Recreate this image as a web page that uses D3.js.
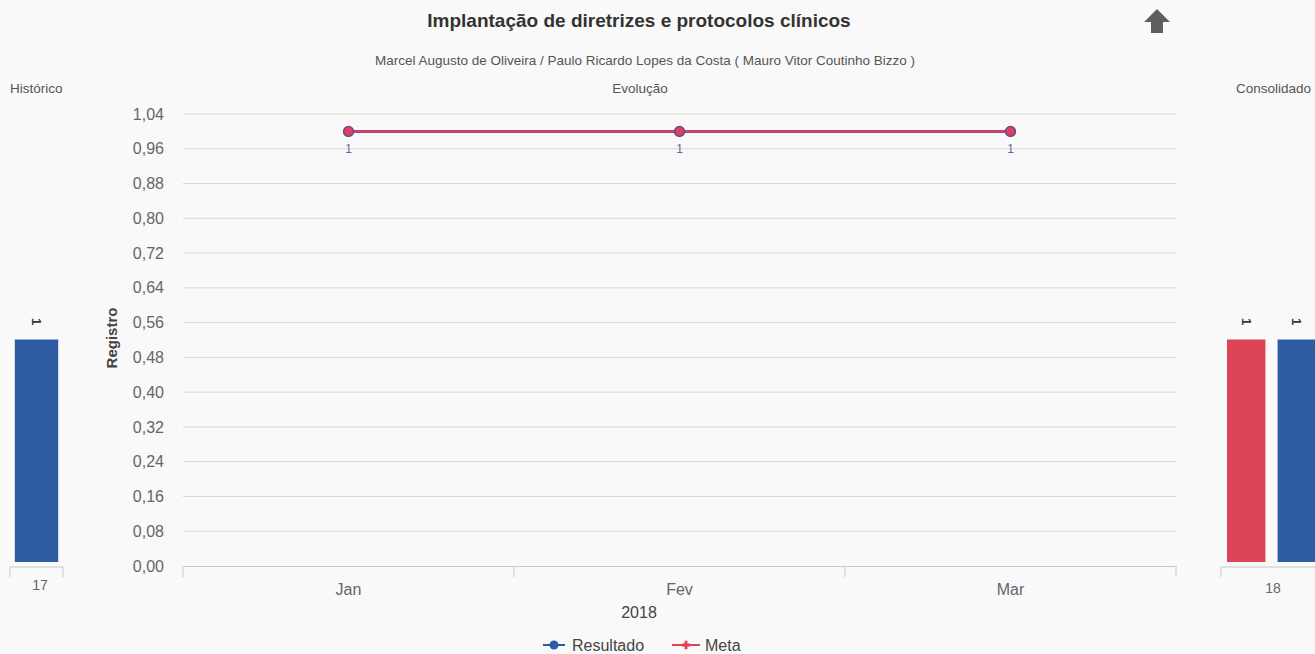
<!DOCTYPE html>
<html>
<head>
<meta charset="utf-8">
<script src="https://cdn.jsdelivr.net/npm/d3@7"></script>
<style>
  html, body { margin: 0; padding: 0; background: #f9f9f9; }
  svg { display: block; font-family: "Liberation Sans", Arial, sans-serif; }
</style>
</head>
<body>
<svg id="chart" width="1315" height="654"></svg>
<script>
// Evolution series (monthly)
const months = ["Jan", "Fev", "Mar"];
const resultado = [1, 1, 1];
const meta = [1, 1, 1];
const yTicks = [0, 0.08, 0.16, 0.24, 0.32, 0.40, 0.48, 0.56, 0.64, 0.72, 0.80, 0.88, 0.96, 1.04];

// Side panels
const historicoCats = ["17"];
const historicoValues = [1];
const consolidadoCats = ["18"];
const consolidadoMeta = [1];
const consolidadoResultado = [1];

const blue = "#2d5ca3";
const red = "#dc4458";
const lineRed = "#dd3f66";
const textGrey = "#666";

const svg = d3.select("#chart");
const fmt = d3.format(".2f");
const comma = v => fmt(v).replace(".", ",");

// Titles
svg.append("text").attr("x", 639).attr("y", 27).attr("text-anchor", "middle")
  .attr("font-size", 19).attr("font-weight", "bold").attr("fill", "#333")
  .text("Implantação de diretrizes e protocolos clínicos");
svg.append("text").attr("x", 645).attr("y", 65).attr("text-anchor", "middle")
  .attr("font-size", 13.5).attr("fill", "#555")
  .text("Marcel Augusto de Oliveira / Paulo Ricardo Lopes da Costa ( Mauro Vitor Coutinho Bizzo )");
svg.append("text").attr("x", 640).attr("y", 93).attr("text-anchor", "middle")
  .attr("font-size", 13.5).attr("fill", "#555").text("Evolução");
svg.append("text").attr("x", 10).attr("y", 93)
  .attr("font-size", 13.5).attr("fill", "#555").text("Histórico");
svg.append("text").attr("x", 1236).attr("y", 93)
  .attr("font-size", 13.5).attr("fill", "#555").text("Consolidado");

// Up arrow icon
svg.append("path")
  .attr("d", "M1157,9 L1170,22 L1163,22 L1163,33 L1151,33 L1151,22 L1144,22 Z")
  .attr("fill", "#5e5e5e");

// Main evolution chart
const x = d3.scaleBand().domain(months).range([183, 1176]);
const y = d3.scaleLinear().domain([0, 1.04]).range([566, 114]);

const grid = svg.append("g");
grid.selectAll("line").data(yTicks.filter(d => d > 0)).join("line")
  .attr("x1", 183).attr("x2", 1176)
  .attr("y1", d => y(d)).attr("y2", d => y(d))
  .attr("stroke", "#d8d8d8").attr("stroke-width", 1);

const yAxis = svg.append("g").attr("transform", "translate(183,0)")
  .call(d3.axisLeft(y).tickValues(yTicks).tickFormat(comma).tickSize(0).tickPadding(19));
yAxis.select(".domain").remove();
yAxis.selectAll("text").attr("font-size", 16).attr("fill", textGrey)
  .attr("font-family", "Liberation Sans, Arial, sans-serif");

const xAxis = svg.append("g").attr("transform", "translate(0,566)")
  .call(d3.axisBottom(x).tickSize(0).tickPadding(18));
xAxis.select(".domain").attr("stroke", "#bccbdc");
xAxis.selectAll("text").attr("font-size", 16).attr("fill", textGrey)
  .attr("font-family", "Liberation Sans, Arial, sans-serif");
// boundary ticks between categories
svg.append("g").selectAll("line")
  .data(months.map(m => x(m)).concat([x.range()[1]])).join("line")
  .attr("x1", d => d).attr("x2", d => d).attr("y1", 566).attr("y2", 577)
  .attr("stroke", "#bccbdc");

svg.append("text").attr("x", 639).attr("y", 618).attr("text-anchor", "middle")
  .attr("font-size", 16).attr("fill", "#444").text("2018");

svg.append("text").attr("transform", "translate(117,338) rotate(-90)")
  .attr("text-anchor", "middle").attr("font-size", 15).attr("font-weight", "bold")
  .attr("fill", "#444").text("Registro");

const cx = m => x(m) + x.bandwidth() / 2;
const line = d3.line().x((d, i) => cx(months[i])).y(d => y(d));

// Resultado
svg.append("path").datum(resultado).attr("d", line)
  .attr("fill", "none").attr("stroke", blue).attr("stroke-width", 3);
// Meta
svg.append("path").datum(meta).attr("d", line)
  .attr("fill", "none").attr("stroke", lineRed).attr("stroke-width", 2.5);
svg.append("g").selectAll("circle").data(resultado).join("circle")
  .attr("cx", (d, i) => cx(months[i])).attr("cy", d => y(d)).attr("r", 5)
  .attr("fill", lineRed).attr("stroke", "#5a4a8a").attr("stroke-width", 1.3);
svg.append("g").selectAll("text").data(resultado).join("text")
  .attr("x", (d, i) => cx(months[i])).attr("y", d => y(d) + 22)
  .attr("text-anchor", "middle").attr("font-size", 12).attr("fill", "#5a6c8c")
  .text(d => d);

// Legend
const lg = svg.append("g").attr("transform", "translate(0,645)");
lg.append("line").attr("x1", 543).attr("x2", 565).attr("y1", 0).attr("y2", 0)
  .attr("stroke", blue).attr("stroke-width", 2);
lg.append("circle").attr("cx", 554).attr("cy", 0).attr("r", 4.5).attr("fill", blue);
lg.append("text").attr("x", 572).attr("y", 6).attr("font-size", 16).attr("fill", "#444").text("Resultado");
lg.append("line").attr("x1", 672).attr("x2", 700).attr("y1", 0).attr("y2", 0)
  .attr("stroke", red).attr("stroke-width", 2);
lg.append("path").attr("d", d3.symbol(d3.symbolCross, 40)()).attr("transform", "translate(686,0)")
  .attr("fill", red);
lg.append("text").attr("x", 705).attr("y", 6).attr("font-size", 16).attr("fill", "#444").text("Meta");

// Side panels share a scale
const ySide = d3.scaleLinear().domain([0, 2]).range([565, 114]);

function sideAxis(x0, x1) {
  svg.append("line").attr("x1", x0).attr("x2", x1).attr("y1", 567).attr("y2", 567)
    .attr("stroke", "#c8c8c8");
  [x0, x1].forEach(v => svg.append("line").attr("x1", v).attr("x2", v)
    .attr("y1", 567).attr("y2", 577).attr("stroke", "#c8c8c8"));
}

// Histórico
const xh = d3.scaleBand().domain(historicoCats).range([10, 63]).paddingInner(0.1).paddingOuter(0.1);
sideAxis(10, 63);
svg.append("g").selectAll("rect").data(historicoValues).join("rect")
  .attr("x", (d, i) => xh(historicoCats[i])).attr("width", xh.bandwidth())
  .attr("y", d => ySide(d)).attr("height", d => ySide(0) - ySide(d) - 3)
  .attr("fill", blue);
svg.append("g").selectAll("text").data(historicoValues).join("text")
  .attr("transform", (d, i) => `translate(${xh(historicoCats[i]) + xh.bandwidth() / 2},${ySide(d) - 18}) rotate(90)`)
  .attr("text-anchor", "middle").attr("dy", "0.35em").attr("font-size", 13).attr("font-weight", "bold")
  .attr("fill", "#333").text(d => d);
svg.append("text").attr("x", 40).attr("y", 590).attr("text-anchor", "middle")
  .attr("font-size", 14).attr("fill", textGrey).text(historicoCats[0]);

// Consolidado
const xs = d3.scaleBand().domain(["Meta", "Resultado"]).range([1227, 1316]).paddingInner(0.24);
sideAxis(1221, 1330);
const cons = [{k: "Meta", v: consolidadoMeta[0], c: red}, {k: "Resultado", v: consolidadoResultado[0], c: blue}];
svg.append("g").selectAll("rect").data(cons).join("rect")
  .attr("x", d => xs(d.k)).attr("width", xs.bandwidth())
  .attr("y", d => ySide(d.v)).attr("height", d => ySide(0) - ySide(d.v) - 3)
  .attr("fill", d => d.c);
svg.append("g").selectAll("text").data(cons).join("text")
  .attr("transform", d => `translate(${xs(d.k) + xs.bandwidth() / 2},${ySide(d.v) - 18}) rotate(90)`)
  .attr("text-anchor", "middle").attr("dy", "0.35em").attr("font-size", 13).attr("font-weight", "bold")
  .attr("fill", "#333").text(d => d.v);
svg.append("text").attr("x", 1273).attr("y", 593).attr("text-anchor", "middle")
  .attr("font-size", 14).attr("fill", textGrey).text(consolidadoCats[0]);
</script>
</body>
</html>
